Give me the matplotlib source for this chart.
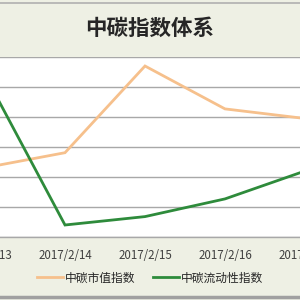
import matplotlib
matplotlib.use("Agg")
import matplotlib.pyplot as plt
from matplotlib.lines import Line2D

plt.rcParams['font.family'] = ['Noto Sans CJK SC', 'DejaVu Sans']

title = "中碳指数体系"
dates = ["2017/2/13", "2017/2/14", "2017/2/15", "2017/2/16", "2017/2/17"]
market_cap = [2.30, 2.80, 5.69, 4.26, 3.94]
liquidity = [5.39, 0.39, 0.67, 1.26, 2.19]
series_names = ["中碳市值指数", "中碳流动性指数"]

bg = "#eef0e4"
orange = "#f6c08c"
green = "#2e8b3b"

fig = plt.figure(figsize=(3, 3), dpi=100, facecolor=bg)
# plot area is wider than the visible crop
ax = fig.add_axes([-55/300, (300-236.7)/300, 400/300, 180/300])
ax.set_facecolor("white")
x = list(range(len(dates)))
ax.plot(x, market_cap, color=orange, lw=2.0, label=series_names[0], solid_joinstyle='miter')
ax.plot(x, liquidity, color=green, lw=2.0, label=series_names[1], solid_joinstyle='miter')
ax.set_xlim(-0.5, 4.5)
ax.set_ylim(0, 6)
ax.set_yticks(range(0, 7))
ax.set_yticklabels([])
ax.tick_params(axis='y', length=0)
ax.grid(axis='y', color="#a8a8a8", lw=1.0)
ax.set_axisbelow(True)
ax.set_xticks(x)
ax.set_xticklabels(dates, fontsize=8.3, color="#404040")
ax.tick_params(axis='x', length=0, pad=9)
for s in ["top", "left", "right"]:
    ax.spines[s].set_visible(False)
ax.spines["bottom"].set_color("#a8a8a8")
ax.spines["bottom"].set_linewidth(1.0)

fig.text(0.5, 1 - 28/300, title, ha='center', va='center', fontsize=15.5,
         fontweight='bold', color="#262626")

fig.legend(loc='center', bbox_to_anchor=(0.5, 1 - 278/300), ncol=2, frameon=False,
           fontsize=8.5, handlelength=2.2, handletextpad=0.15, columnspacing=1.5,
           labelcolor="#262626")

fig.add_artist(Line2D([0, 1], [1 - 3/300, 1 - 3/300], transform=fig.transFigure,
                      color="#b0b0b0", lw=1.2))
fig.add_artist(Line2D([0, 1], [1 - 297/300, 1 - 297/300], transform=fig.transFigure,
                      color="#a0a0a0", lw=2.5))

fig.savefig("out.png", dpi=100, facecolor=bg)
